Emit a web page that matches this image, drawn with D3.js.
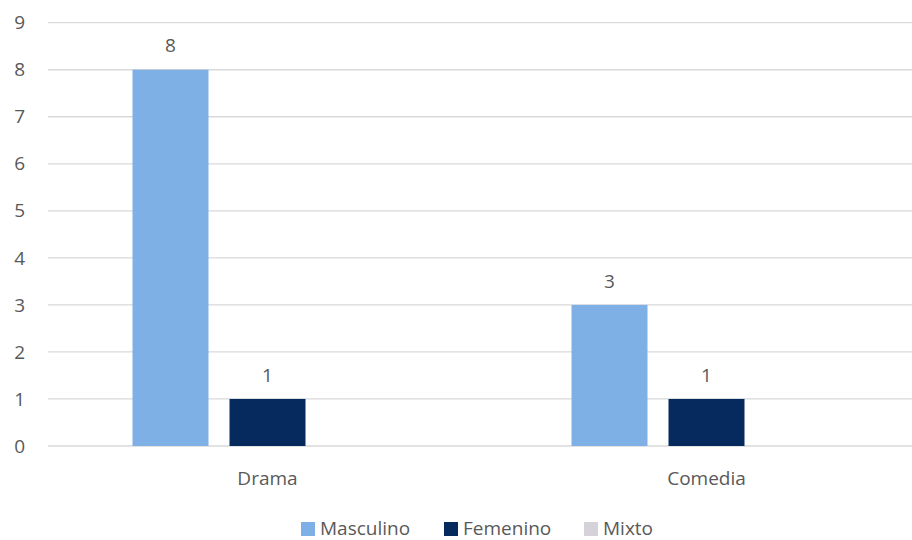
<!DOCTYPE html>
<html><head><meta charset="utf-8">
<script src="https://cdn.jsdelivr.net/npm/d3@7"></script>
<style>body{margin:0;background:#fff}svg{display:block}text{font-family:"Open Sans",sans-serif;fill:#595959}</style>
</head><body><svg id="c" width="912" height="540"></svg>
<script>
const categories = ["Drama", "Comedia"];
const seriesNames = ["Masculino", "Femenino", "Mixto"];
const masculino = [8, 3];
const femenino = [1, 1];
const mixto = [0, 0];
const yTicks = [0,1,2,3,4,5,6,7,8,9];
const colors = ["#7EB0E5", "#072A5E", "#D6D2D9"];
const seriesValues = [masculino, femenino, mixto];

const svg = d3.select("#c");
const x0 = d3.scaleBand().domain(categories).range([48, 926]).paddingInner(0).paddingOuter(0);
const x1 = d3.scaleBand().domain(seriesNames).range([84.5, 439-84.5]).paddingInner(21/97).paddingOuter(0);
const y = d3.scaleLinear().domain([0, 9]).range([446, 22.7]);

// gridlines
svg.append("g").selectAll("line").data(yTicks).join("line")
  .attr("x1", 48).attr("x2", 912)
  .attr("y1", d => y(d)).attr("y2", d => y(d))
  .attr("stroke", "#D9D9D9").attr("stroke-width", 1.3);

// y axis labels
svg.append("g").selectAll("text").data(yTicks).join("text")
  .attr("x", 25).attr("y", d => y(d)).attr("dy", "0.35em")
  .attr("text-anchor", "end").attr("font-size", 19).text(d => d);

// bars
const groups = svg.append("g").selectAll("g").data(categories).join("g")
  .attr("transform", c => `translate(${x0(c)},0)`);
groups.each(function(c, ci) {
  const g = d3.select(this);
  seriesNames.forEach((s, si) => {
    const v = seriesValues[si][ci];
    if (v > 0) {
      g.append("rect").attr("x", x1(s)).attr("width", x1.bandwidth())
        .attr("y", y(v)).attr("height", y(0) - y(v)).attr("fill", colors[si]);
      g.append("text").attr("x", x1(s) + x1.bandwidth()/2).attr("y", y(v) - 24)
        .attr("dy", "0.35em").attr("text-anchor", "middle").attr("font-size", 19).text(v);
    }
  });
});

// x axis labels
svg.append("g").selectAll("text").data(categories).join("text")
  .attr("x", c => x0(c) + x0.bandwidth()/2).attr("y", 478).attr("dy", "0.35em")
  .attr("text-anchor", "middle").attr("font-size", 19).text(c => c);

// legend
const legX = [301, 444, 584];
const leg = svg.append("g").selectAll("g").data(seriesNames).join("g")
  .attr("transform", (d, i) => `translate(${legX[i]},522)`);
leg.append("rect").attr("width", 14).attr("height", 14).attr("fill", (d, i) => colors[i]);
leg.append("text").attr("x", 19).attr("y", 7).attr("dy", "0.33em").attr("font-size", 19).text(d => d);
</script></body></html>
